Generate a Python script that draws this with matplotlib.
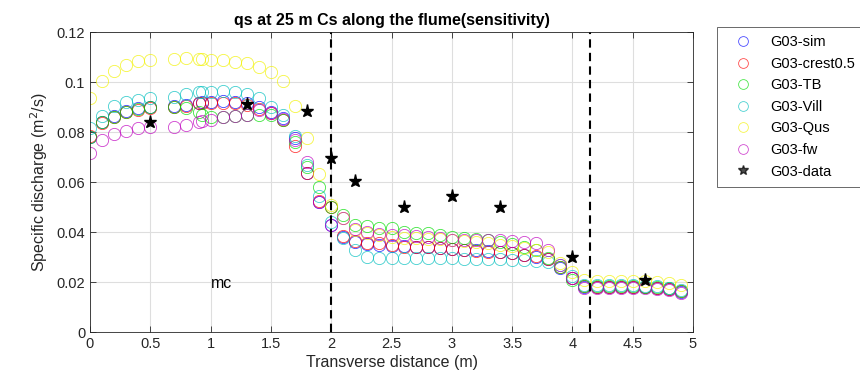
import numpy as np
import matplotlib
matplotlib.use("Agg")
import matplotlib.pyplot as plt
from matplotlib.ticker import FuncFormatter

plt.rcParams['font.family'] = ['Liberation Sans', 'DejaVu Sans']

# transverse positions (m)
x = [0.0, 0.1, 0.2, 0.3, 0.4, 0.5, 0.7, 0.8, 0.9, 0.93,
     1.0, 1.1, 1.2, 1.3, 1.4, 1.5, 1.6, 1.7, 1.8, 1.9,
     2.0, 2.1, 2.2, 2.3, 2.4, 2.5, 2.6, 2.7, 2.8, 2.9,
     3.0, 3.1, 3.2, 3.3, 3.4, 3.5, 3.6, 3.7, 3.8, 3.9,
     4.0, 4.1, 4.2, 4.3, 4.4, 4.5, 4.6, 4.7, 4.8, 4.9]

q_sim = [0.0781, 0.0841, 0.0864, 0.0884, 0.0895, 0.0901, 0.0905, 0.0908, 0.0917, 0.0921,
         0.0921, 0.0925, 0.0921, 0.0915, 0.0901, 0.0881, 0.0855, 0.0775, 0.0637, 0.0521,
         0.0428, 0.0381, 0.0361, 0.0352, 0.0350, 0.0346, 0.0344, 0.0342, 0.0340, 0.0337,
         0.0333, 0.0330, 0.0327, 0.0323, 0.0320, 0.0316, 0.0309, 0.0302, 0.0292, 0.0258,
         0.0215, 0.0182, 0.0180, 0.0180, 0.0180, 0.0180, 0.0179, 0.0177, 0.0172, 0.0162]

q_crest = [0.0785, 0.0835, 0.0860, 0.0880, 0.0888, 0.0895, 0.0901, 0.0905, 0.0915, 0.0917,
           0.0917, 0.0917, 0.0917, 0.0910, 0.0891, 0.0875, 0.0848, 0.0744, 0.0637, 0.0525,
           0.0500, 0.0383, 0.0366, 0.0356, 0.0355, 0.0348, 0.0342, 0.0341, 0.0339, 0.0336,
           0.0332, 0.0330, 0.0326, 0.0322, 0.0319, 0.0315, 0.0309, 0.0303, 0.0293, 0.0260,
           0.0218, 0.0184, 0.0181, 0.0181, 0.0181, 0.0181, 0.0180, 0.0178, 0.0173, 0.0163]

q_tb = [0.0781, 0.0840, 0.0862, 0.0882, 0.0893, 0.0899, 0.0900, 0.0895, 0.0880, 0.0870,
        0.0862, 0.0861, 0.0864, 0.0868, 0.0868, 0.0868, 0.0848, 0.0760, 0.0660, 0.0582,
        0.0500, 0.0470, 0.0428, 0.0424, 0.0417, 0.0415, 0.0401, 0.0398, 0.0395, 0.0390,
        0.0382, 0.0378, 0.0373, 0.0368, 0.0360, 0.0352, 0.0342, 0.0328, 0.0295, 0.0260,
        0.0208, 0.0185, 0.0183, 0.0183, 0.0183, 0.0183, 0.0182, 0.0180, 0.0175, 0.0165]

q_vill = [0.0815, 0.0864, 0.0904, 0.0921, 0.0928, 0.0937, 0.0941, 0.0952, 0.0959, 0.0960,
          0.0961, 0.0965, 0.0961, 0.0951, 0.0935, 0.0901, 0.0868, 0.0784, 0.0668, 0.0545,
          0.0441, 0.0375, 0.0328, 0.0301, 0.0295, 0.0295, 0.0295, 0.0295, 0.0295, 0.0295,
          0.0295, 0.0294, 0.0294, 0.0293, 0.0292, 0.0290, 0.0288, 0.0285, 0.0282, 0.0270,
          0.0225, 0.0190, 0.0188, 0.0188, 0.0188, 0.0188, 0.0186, 0.0184, 0.0178, 0.0168]

q_qus = [0.0935, 0.1005, 0.1045, 0.1070, 0.1084, 0.1090, 0.1093, 0.1097, 0.1093, 0.1093,
         0.1090, 0.1088, 0.1081, 0.1075, 0.1059, 0.1039, 0.1005, 0.0905, 0.0775, 0.0632,
         0.0508, 0.0455, 0.0408, 0.0395, 0.0388, 0.0380, 0.0378, 0.0376, 0.0374, 0.0371,
         0.0368, 0.0364, 0.0360, 0.0355, 0.0350, 0.0345, 0.0338, 0.0330, 0.0320, 0.0277,
         0.0241, 0.0208, 0.0205, 0.0205, 0.0205, 0.0205, 0.0204, 0.0202, 0.0197, 0.0188]

q_fw = [0.0717, 0.0768, 0.0792, 0.0805, 0.0815, 0.0819, 0.0821, 0.0828, 0.0841, 0.0845,
        0.0848, 0.0861, 0.0864, 0.0868, 0.0890, 0.0875, 0.0850, 0.0770, 0.0681, 0.0520,
        0.0430, 0.0455, 0.0411, 0.0400, 0.0393, 0.0390, 0.0388, 0.0385, 0.0382, 0.0378,
        0.0370, 0.0370, 0.0370, 0.0370, 0.0368, 0.0364, 0.0360, 0.0355, 0.0328, 0.0268,
        0.0215, 0.0178, 0.0176, 0.0176, 0.0176, 0.0176, 0.0175, 0.0173, 0.0168, 0.0158]

# measured
data_x = [0.5, 1.3, 1.8, 2.0, 2.2, 2.6, 3.0, 3.4, 4.0, 4.6]
data_q = [0.084, 0.0912, 0.0884, 0.0696, 0.0604, 0.050, 0.0544, 0.050, 0.030, 0.0208]

# dashed boundaries
x_bounds = [2.0, 4.15]

series = [(q_sim, 'b', 'G03-sim'),
          (q_crest, 'r', 'G03-crest0.5'),
          (q_tb, '#00dd00', 'G03-TB'),
          (q_vill, 'c', 'G03-Vill'),
          (q_qus, '#f2f200', 'G03-Qus'),
          (q_fw, 'm', 'G03-fw')]

fig = plt.figure(figsize=(8.6, 3.88), dpi=100)
ax = fig.add_axes([90/860, 56/388, 603/860, 300/388])

for q, c, lab in series:
    ax.plot(x, q, linestyle='none', marker='o', markersize=8.8,
            markerfacecolor='none', markeredgecolor=c, markeredgewidth=0.6,
            alpha=0.75, label=lab)
ax.plot(data_x, data_q, linestyle='none', marker='*', markersize=9.5,
        color='k', label='G03-data')

for xb in x_bounds:
    ax.axvline(xb, color='k', linestyle=(0, (4, 2.5)), linewidth=1.5)

ax.text(1.0, 0.0192, 'mc', fontsize=11.5, va='center', ha='left')

ax.set_xlim(0, 5)
ax.set_ylim(0, 0.12)
ax.set_xticks([0, 0.5, 1, 1.5, 2, 2.5, 3, 3.5, 4, 4.5, 5])
ax.set_yticks([0, 0.02, 0.04, 0.06, 0.08, 0.1, 0.12])
fmt = FuncFormatter(lambda v, p: '%g' % round(v, 4))
ax.xaxis.set_major_formatter(fmt)
ax.yaxis.set_major_formatter(fmt)
ax.grid(True, color='#dedede', linewidth=0.8)
ax.set_axisbelow(True)
ax.tick_params(direction='in', top=True, right=True, labelsize=10.5,
               colors='#262626', length=4, width=0.6)
for s in ax.spines.values():
    s.set_color('#262626')
    s.set_linewidth(0.6)

ax.set_xlabel('Transverse distance (m)', fontsize=11.5, color='#262626', labelpad=3)
ax.set_ylabel('Specific discharge (m$^2$/s)', fontsize=11.5, color='#262626', labelpad=5)
ax.set_title('qs at 25 m Cs along the flume(sensitivity)', fontsize=11.5,
             fontweight='bold', pad=5)

leg = fig.legend(loc='upper left', bbox_to_anchor=(717/860, 1 - 27/388),
                 fontsize=10.5, frameon=True, fancybox=False, labelspacing=0.52,
                 handletextpad=0.7, borderpad=0.55, handlelength=2.4,
                 borderaxespad=0, markerscale=0.8)
leg.get_frame().set_edgecolor('#262626')
leg.get_frame().set_linewidth(0.6)
for h in leg.legend_handles:
    h.set_alpha(0.7)

fig.savefig('out.png', dpi=100)
